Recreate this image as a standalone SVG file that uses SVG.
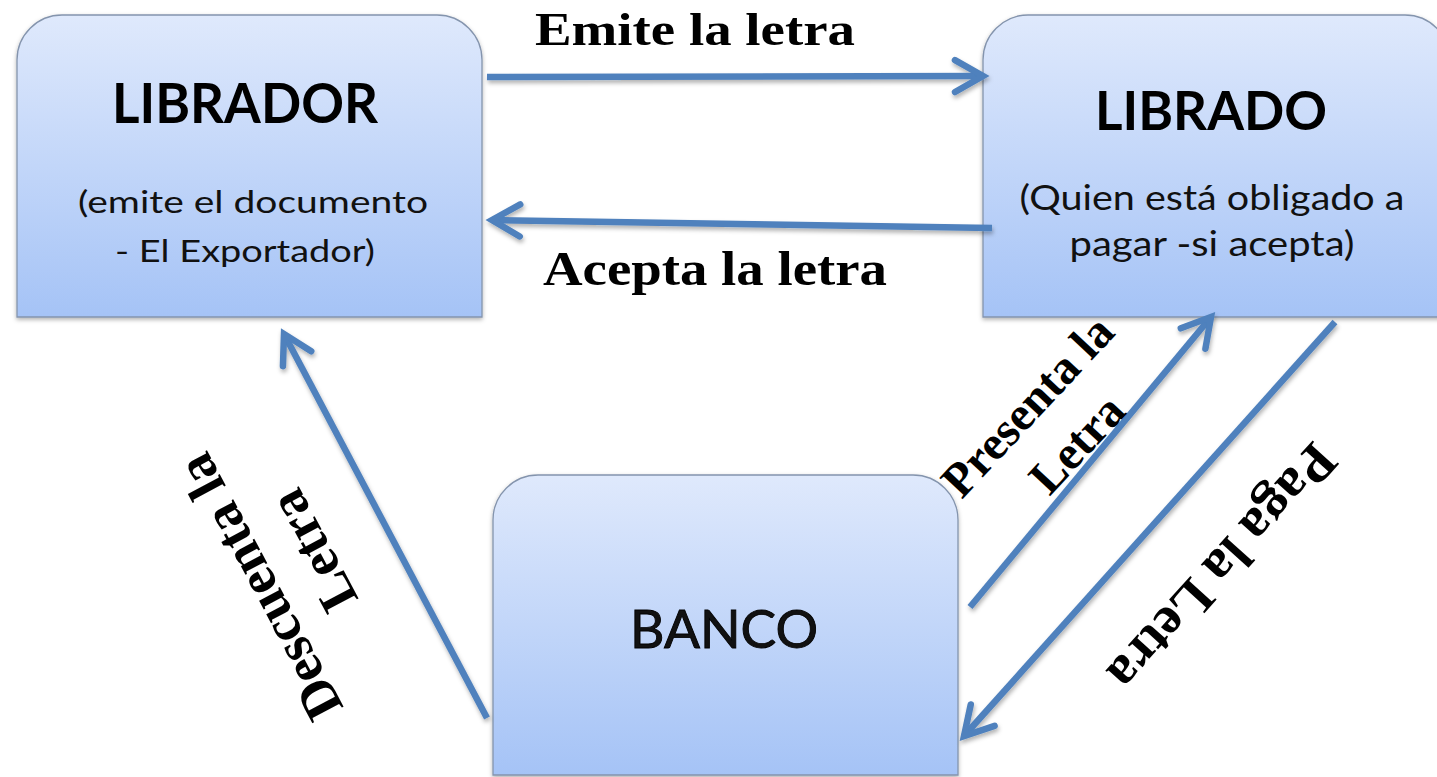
<svg xmlns="http://www.w3.org/2000/svg" width="1437" height="777" viewBox="0 0 1437 777">
  <style>
    .box { stroke: #8494ad; stroke-width: 1.3; filter: url(#boxShadow); }
    .title { font-family: Lato, "Liberation Sans", sans-serif; font-weight: 700; fill: #000; }
    .sub { font-family: Lato, "Liberation Sans", sans-serif; font-weight: 400; fill: #111; }
    .lbl { font-family: "Liberation Serif", "Times New Roman", serif; font-weight: 700; fill: #000; }
    .conn { fill: none; stroke: #4f81bd; stroke-width: 6.5; marker-end: url(#chev); }
  </style>
  <defs>
    <linearGradient id="fillGrad" x1="0" y1="0" x2="0" y2="1">
      <stop offset="0" stop-color="#dfe9fc"/>
      <stop offset="1" stop-color="#a5c3f6"/>
    </linearGradient>
    <filter id="boxShadow" x="-10%" y="-10%" width="120%" height="125%">
      <feDropShadow dx="0" dy="2" stdDeviation="2" flood-color="#000" flood-opacity="0.3"/>
    </filter>
    <filter id="lineShadow" x="-10%" y="-10%" width="120%" height="120%">
      <feDropShadow dx="1" dy="3" stdDeviation="2" flood-color="#000" flood-opacity="0.3"/>
    </filter>
    <marker id="chev" markerUnits="userSpaceOnUse" viewBox="-40 -25 50 50" markerWidth="50" markerHeight="50" refX="0" refY="0" orient="auto" overflow="visible">
      <path d="M-28,-16 L0,0 L-28,16" fill="none" stroke="#4f81bd" stroke-width="6.5" stroke-linecap="round" stroke-linejoin="miter"/>
    </marker>
  </defs>

  <rect width="1437" height="777" fill="#ffffff"/>

  <g id="node-librador">
    <path class="box" d="M17,317 V60 A45,45 0 0 1 62,15 H437 A45,45 0 0 1 482,60 V317 Z" fill="url(#fillGrad)"/>
    <text class="title" x="245" y="123" font-size="56" text-anchor="middle" textLength="266" lengthAdjust="spacingAndGlyphs">LIBRADOR</text>
    <text class="sub" x="253" y="213" font-size="31" text-anchor="middle" textLength="350" lengthAdjust="spacingAndGlyphs">(emite el documento</text>
    <text class="sub" x="245" y="262" font-size="31" text-anchor="middle" textLength="260" lengthAdjust="spacingAndGlyphs">- El Exportador)</text>
  </g>

  <g id="node-librado">
    <path class="box" d="M983,317 V60 A45,45 0 0 1 1028,15 H1405 A45,45 0 0 1 1450,60 V317 Z" fill="url(#fillGrad)"/>
    <text class="title" x="1211" y="130" font-size="54" text-anchor="middle" textLength="232" lengthAdjust="spacingAndGlyphs">LIBRADO</text>
    <text class="sub" x="1212" y="210" font-size="34" text-anchor="middle" textLength="385" lengthAdjust="spacingAndGlyphs">(Quien está obligado a</text>
    <text class="sub" x="1212" y="256" font-size="34" text-anchor="middle" textLength="285" lengthAdjust="spacingAndGlyphs">pagar -si acepta)</text>
  </g>

  <g id="node-banco">
    <path class="box" d="M493,775 V520 A45,45 0 0 1 538,475 H913 A45,45 0 0 1 958,520 V775 Z" fill="url(#fillGrad)"/>
    <text class="sub" x="724" y="648" font-size="53" text-anchor="middle" textLength="188" lengthAdjust="spacingAndGlyphs" fill="#000" stroke="#000" stroke-width="0.9">BANCO</text>
  </g>

  <g id="connectors" filter="url(#lineShadow)">
    <line id="c-emite" class="conn" x1="487" y1="77" x2="983" y2="76"/>
    <line id="c-acepta" class="conn" x1="992" y1="228" x2="492" y2="220"/>
    <line id="c-descuenta" class="conn" x1="487" y1="718" x2="284" y2="334"/>
    <line id="c-presenta" class="conn" x1="970" y1="607" x2="1211" y2="317"/>
    <line id="c-paga" class="conn" x1="1335" y1="322" x2="964" y2="736"/>
  </g>

  <g id="labels">
    <text class="lbl" x="695" y="45" font-size="46" text-anchor="middle" textLength="320" lengthAdjust="spacingAndGlyphs">Emite la letra</text>
    <text class="lbl" x="715" y="285" font-size="49" text-anchor="middle" textLength="344" lengthAdjust="spacingAndGlyphs">Acepta la letra</text>
    <text class="lbl" font-size="54" text-anchor="middle" transform="translate(258,580) rotate(-118)">
      <tspan x="0" y="16">Descuenta la</tspan>
      <tspan x="0" y="80">Letra</tspan>
    </text>
    <text class="lbl" font-size="48" text-anchor="middle" transform="translate(1033,403) rotate(-47)">
      <tspan x="0" y="14">Presenta la</tspan>
      <tspan x="0" y="76">Letra</tspan>
    </text>
    <text class="lbl" font-size="54" text-anchor="middle" transform="translate(1221,566) rotate(132)">
      <tspan x="0" y="16">Paga la Letra</tspan>
    </text>
  </g>
</svg>
